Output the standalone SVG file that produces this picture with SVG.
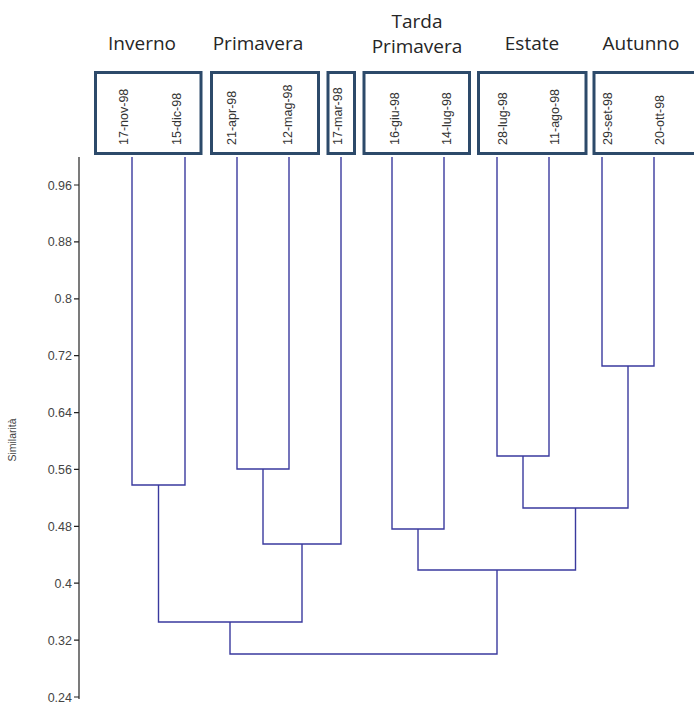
<svg xmlns="http://www.w3.org/2000/svg" width="694" height="706" viewBox="0 0 694 706">
<style>
.bg{fill:#ffffff}
.box{fill:none;stroke:#2d4a6a;stroke-width:3}
.cat{font-family:"Open Sans","Liberation Sans",sans-serif;font-size:19px;fill:#262626;text-anchor:middle}
.leaf{font-family:"Liberation Sans",Arial,sans-serif;font-size:12.5px;fill:#333333}
.tick{font-family:"Liberation Sans",Arial,sans-serif;font-size:12.5px;fill:#444444;text-anchor:end}
.axis{stroke:#222222;stroke-width:1.2;fill:none}
.den{stroke:#3a3a9e;stroke-width:1.4;fill:none}
.ylab{font-family:"Liberation Sans",Arial,sans-serif;font-size:10.5px;fill:#444444;text-anchor:middle}
</style>
<rect class="bg" x="0" y="0" width="694" height="706"/>

<g id="labels">
<text class="cat" x="142" y="50">Inverno</text>
<text class="cat" x="258" y="50">Primavera</text>
<text class="cat" x="417" y="28">Tarda</text>
<text class="cat" x="417" y="53">Primavera</text>
<text class="cat" x="532" y="50">Estate</text>
<text class="cat" x="641" y="50">Autunno</text>
</g>

<g id="group-inverno">
<rect class="box" x="95.5" y="72.5" width="105.5" height="81"/>
<text class="leaf" transform="translate(128,145) rotate(-90)">17-nov-98</text>
<text class="leaf" transform="translate(181,145) rotate(-90)">15-dic-98</text>
</g>
<g id="group-primavera">
<rect class="box" x="211.5" y="72.5" width="107" height="81"/>
<text class="leaf" transform="translate(235.5,145) rotate(-90)">21-apr-98</text>
<text class="leaf" transform="translate(292,145) rotate(-90)">12-mag-98</text>
</g>
<g id="group-marzo">
<rect class="box" x="328" y="72.5" width="26.5" height="81"/>
<text class="leaf" transform="translate(342,145) rotate(-90)">17-mar-98</text>
</g>
<g id="group-tarda-primavera">
<rect class="box" x="364" y="72.5" width="105.5" height="81"/>
<text class="leaf" transform="translate(398.5,145) rotate(-90)">16-giu-98</text>
<text class="leaf" transform="translate(450.5,145) rotate(-90)">14-lug-98</text>
</g>
<g id="group-estate">
<rect class="box" x="478.5" y="72.5" width="107.5" height="81"/>
<text class="leaf" transform="translate(507,145) rotate(-90)">28-lug-98</text>
<text class="leaf" transform="translate(558.5,145) rotate(-90)">11-ago-98</text>
</g>
<g id="group-autunno">
<rect class="box" x="594" y="72.5" width="110" height="81"/>
<text class="leaf" transform="translate(612,145) rotate(-90)">29-set-98</text>
<text class="leaf" transform="translate(663.5,145) rotate(-90)">20-ott-98</text>
</g>

<g id="axis">
<path class="axis" d="M79,157 V699"/>
<path class="axis" d="M74,185 H79 M74,241.9 H79 M74,298.8 H79 M74,355.7 H79 M74,412.6 H79 M74,469.4 H79 M74,526.3 H79 M74,583.2 H79 M74,640.1 H79 M74,697 H79"/>
<text class="tick" x="72" y="189.5">0.96</text>
<text class="tick" x="72" y="246.4">0.88</text>
<text class="tick" x="72" y="303.3">0.8</text>
<text class="tick" x="72" y="360.2">0.72</text>
<text class="tick" x="72" y="417.1">0.64</text>
<text class="tick" x="72" y="473.9">0.56</text>
<text class="tick" x="72" y="530.8">0.48</text>
<text class="tick" x="72" y="587.7">0.4</text>
<text class="tick" x="72" y="644.6">0.32</text>
<text class="tick" x="72" y="701.5">0.24</text>
<text class="ylab" transform="translate(16,440) rotate(-90)">Similarità</text>
</g>

<g id="connectors">
<path class="den" d="M132,157 V485 H185 V157"/>
<path class="den" d="M237,157 V469 H289 V157"/>
<path class="den" d="M263,469 V544 H341 V157"/>
<path class="den" d="M158.5,485 V622 H302 V544"/>
<path class="den" d="M392,157 V529 H444 V157"/>
<path class="den" d="M497,157 V456 H549 V157"/>
<path class="den" d="M602,157 V366 H654 V157"/>
<path class="den" d="M523,456 V508 H628 V366"/>
<path class="den" d="M418,529 V570 H575.5 V508"/>
<path class="den" d="M230,622 V654 H497 V570"/>
</g>
</svg>
